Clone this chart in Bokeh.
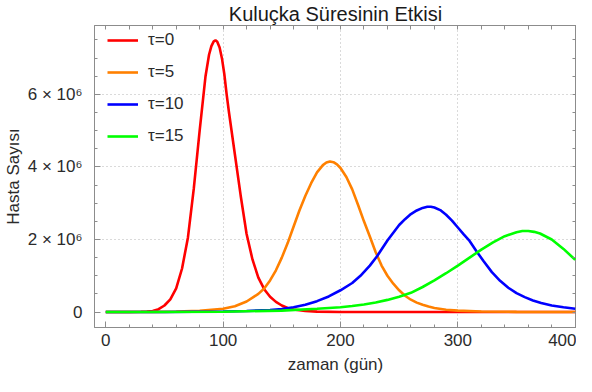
from bokeh.plotting import figure
from bokeh.models import (Range1d, FixedTicker, LinearAxis, ColumnDataSource, Legend, LegendItem)
from bokeh.embed import file_html
from bokeh.resources import INLINE

# ---- data (values in millions of patients) ----
t_tau0 = [0, 10, 20, 30, 35, 40, 45, 50, 55, 60, 65, 70, 75, 80, 85, 88, 90, 92, 93.5, 95, 97, 99,
          101, 103, 105, 110, 115, 120, 125, 130, 135, 140, 145, 150, 155, 160, 170, 180, 200, 250,
          300, 350, 400]
n_tau0 = [0, 0.0005, 0.002, 0.008, 0.015, 0.03, 0.08, 0.18, 0.35, 0.65, 1.2, 2.05, 3.4, 5.0, 6.5, 7.09,
          7.33, 7.46, 7.49, 7.45, 7.29, 6.99, 6.56, 6.0, 5.5, 4.35, 3.2, 2.15, 1.45, 0.95, 0.63, 0.42,
          0.28, 0.18, 0.11, 0.07, 0.03, 0.012, 0.003, 0, 0, 0, 0]

t_tau5 = [0, 20, 40, 60, 80, 100, 110, 120, 130, 135, 140, 145, 150, 155, 160, 165, 170, 175, 180, 185,
          188, 191, 194, 197, 200, 205, 210, 215, 220, 225, 230, 235, 240, 245, 250, 255, 260, 265, 270,
          275, 280, 290, 300, 320, 350, 400]
n_tau5 = [0, 0.001, 0.004, 0.012, 0.035, 0.09, 0.16, 0.29, 0.5, 0.65, 0.87, 1.15, 1.5, 1.9, 2.35, 2.8,
          3.2, 3.55, 3.85, 4.05, 4.12, 4.15, 4.13, 4.07, 3.97, 3.72, 3.38, 2.95, 2.5, 2.08, 1.65, 1.28,
          1.0, 0.78, 0.6, 0.45, 0.34, 0.26, 0.2, 0.15, 0.11, 0.065, 0.04, 0.015, 0.004, 0.0005]

t_tau10 = [0, 50, 100, 120, 140, 150, 160, 170, 180, 190, 200, 210, 217, 225, 231, 240, 250, 255, 260,
           265, 270, 274, 277, 280, 285, 290, 295, 300, 305, 310, 316, 322, 329, 336, 343, 350, 357,
           364, 371, 380, 390, 400]
n_tau10 = [0, 0.002, 0.015, 0.03, 0.055, 0.08, 0.13, 0.2, 0.3, 0.43, 0.6, 0.8, 1.0, 1.28, 1.53, 1.97,
           2.4, 2.56, 2.7, 2.8, 2.87, 2.9, 2.9, 2.88, 2.81, 2.68, 2.52, 2.33, 2.14, 1.96, 1.67, 1.4,
           1.1, 0.86, 0.67, 0.52, 0.41, 0.32, 0.25, 0.18, 0.13, 0.09]

t_tau15 = [0, 50, 100, 150, 180, 200, 210, 220, 230, 240, 250, 260, 270, 280, 290, 300, 310, 320, 330,
           340, 350, 355, 360, 365, 370, 380, 390, 400]
n_tau15 = [0, 0.002, 0.01, 0.04, 0.09, 0.13, 0.165, 0.21, 0.265, 0.335, 0.42, 0.53, 0.69, 0.87, 1.07,
           1.28, 1.5, 1.72, 1.92, 2.09, 2.2, 2.235, 2.235, 2.21, 2.165, 2.0, 1.74, 1.44]

series_labels = ["τ=0", "τ=5", "τ=10", "τ=15"]
series_colors = ["#FF0000", "#FF8000", "#0000FF", "#00FF00"]

x_major = [0, 100, 200, 300, 400]
y_major = [0, 2000000, 4000000, 6000000]
y_tick_labels = ["0", "2 × 10⁶", "4 × 10⁶", "6 × 10⁶"]

title_text = "Kuluçka Süresinin Etkisi"
x_label = "zaman (gün)"
y_label = "Hasta Sayısı"

FONT = "Liberation Sans"
FRAME = "#8c8c8c"
TXT = "#2b2b2b"

p = figure(width=576, height=376, output_backend="svg", toolbar_location=None,
           x_range=Range1d(-9.6, 401.1), y_range=Range1d(-426000, 7897000),
           min_border_left=85, min_border_right=0, min_border_top=0, min_border_bottom=0,
           x_axis_label=x_label, y_axis_label=y_label, title=title_text)
p.outline_line_color = FRAME
p.background_fill_color = "white"
p.border_fill_color = "white"

p.title.align = "center"
p.title.offset = 0
p.title.standoff = 1
p.title.text_font = FONT
p.title.text_font_size = "20px"
p.title.text_font_style = "normal"
p.title.text_color = "#1a1a1a"

x_minor = [v for v in range(0, 401, 20) if v not in x_major]
y_minor = [v * 500000 for v in range(0, 16) if v * 500000 not in y_major]

def style_axis(ax):
    ax.axis_line_color = FRAME
    ax.major_tick_line_color = FRAME
    ax.minor_tick_line_color = FRAME
    ax.major_tick_in = 6
    ax.major_tick_out = 0
    ax.minor_tick_in = 3
    ax.minor_tick_out = 0
    ax.major_label_text_font = FONT
    ax.major_label_text_font_size = "17px"
    ax.major_label_text_color = TXT
    ax.axis_label_text_font = FONT
    ax.axis_label_text_font_size = "17px"
    ax.axis_label_text_font_style = "normal"
    ax.axis_label_text_color = TXT

p.xaxis.ticker = FixedTicker(ticks=x_major, minor_ticks=x_minor)
p.yaxis.ticker = FixedTicker(ticks=y_major, minor_ticks=y_minor)
p.yaxis.major_label_overrides = {v: s for v, s in zip(y_major, y_tick_labels)}
style_axis(p.xaxis[0])
style_axis(p.yaxis[0])
p.xaxis.major_label_standoff = 6
p.xaxis.axis_label_standoff = 6
p.yaxis.major_label_standoff = 12
p.yaxis.axis_label_standoff = 2

# frame ticks along the top and right edges (no labels)
for side, ticks in (("above", x_major + x_minor), ("right", y_major + y_minor)):
    ax = LinearAxis(ticker=FixedTicker(ticks=[], minor_ticks=sorted(ticks)))
    style_axis(ax)
    ax.minor_tick_in = 4
    ax.major_label_standoff = 0
    ax.axis_label_standoff = 0
    p.add_layout(ax, side)

p.xgrid.ticker = FixedTicker(ticks=[100, 200, 300])
p.ygrid.ticker = FixedTicker(ticks=[2000000, 4000000, 6000000])
for g in (p.xgrid[0], p.ygrid[0]):
    g.grid_line_color = "#b4b4b4"
    g.grid_line_dash = "1 3"
    g.grid_line_width = 1

items = []
for ts, ns, lab, col in zip([t_tau0, t_tau5, t_tau10, t_tau15],
                            [n_tau0, n_tau5, n_tau10, n_tau15],
                            series_labels, series_colors):
    src = ColumnDataSource(dict(t=ts, n=[v * 1e6 for v in ns]))
    r = p.line("t", "n", source=src, line_color=col, line_width=2.6)
    items.append(LegendItem(label=lab, renderers=[r]))

legend = Legend(items=items, location=(13, 181))
legend.background_fill_alpha = 0
legend.border_line_color = None
legend.margin = 0
legend.padding = 0
legend.spacing = 12
legend.label_height = 20
legend.glyph_height = 20
legend.glyph_width = 31
legend.label_standoff = 10
legend.label_text_font = FONT
legend.label_text_font_size = "17px"
legend.label_text_color = TXT
p.add_layout(legend, "center")

open("out.html", "w").write(file_html(p, INLINE))
